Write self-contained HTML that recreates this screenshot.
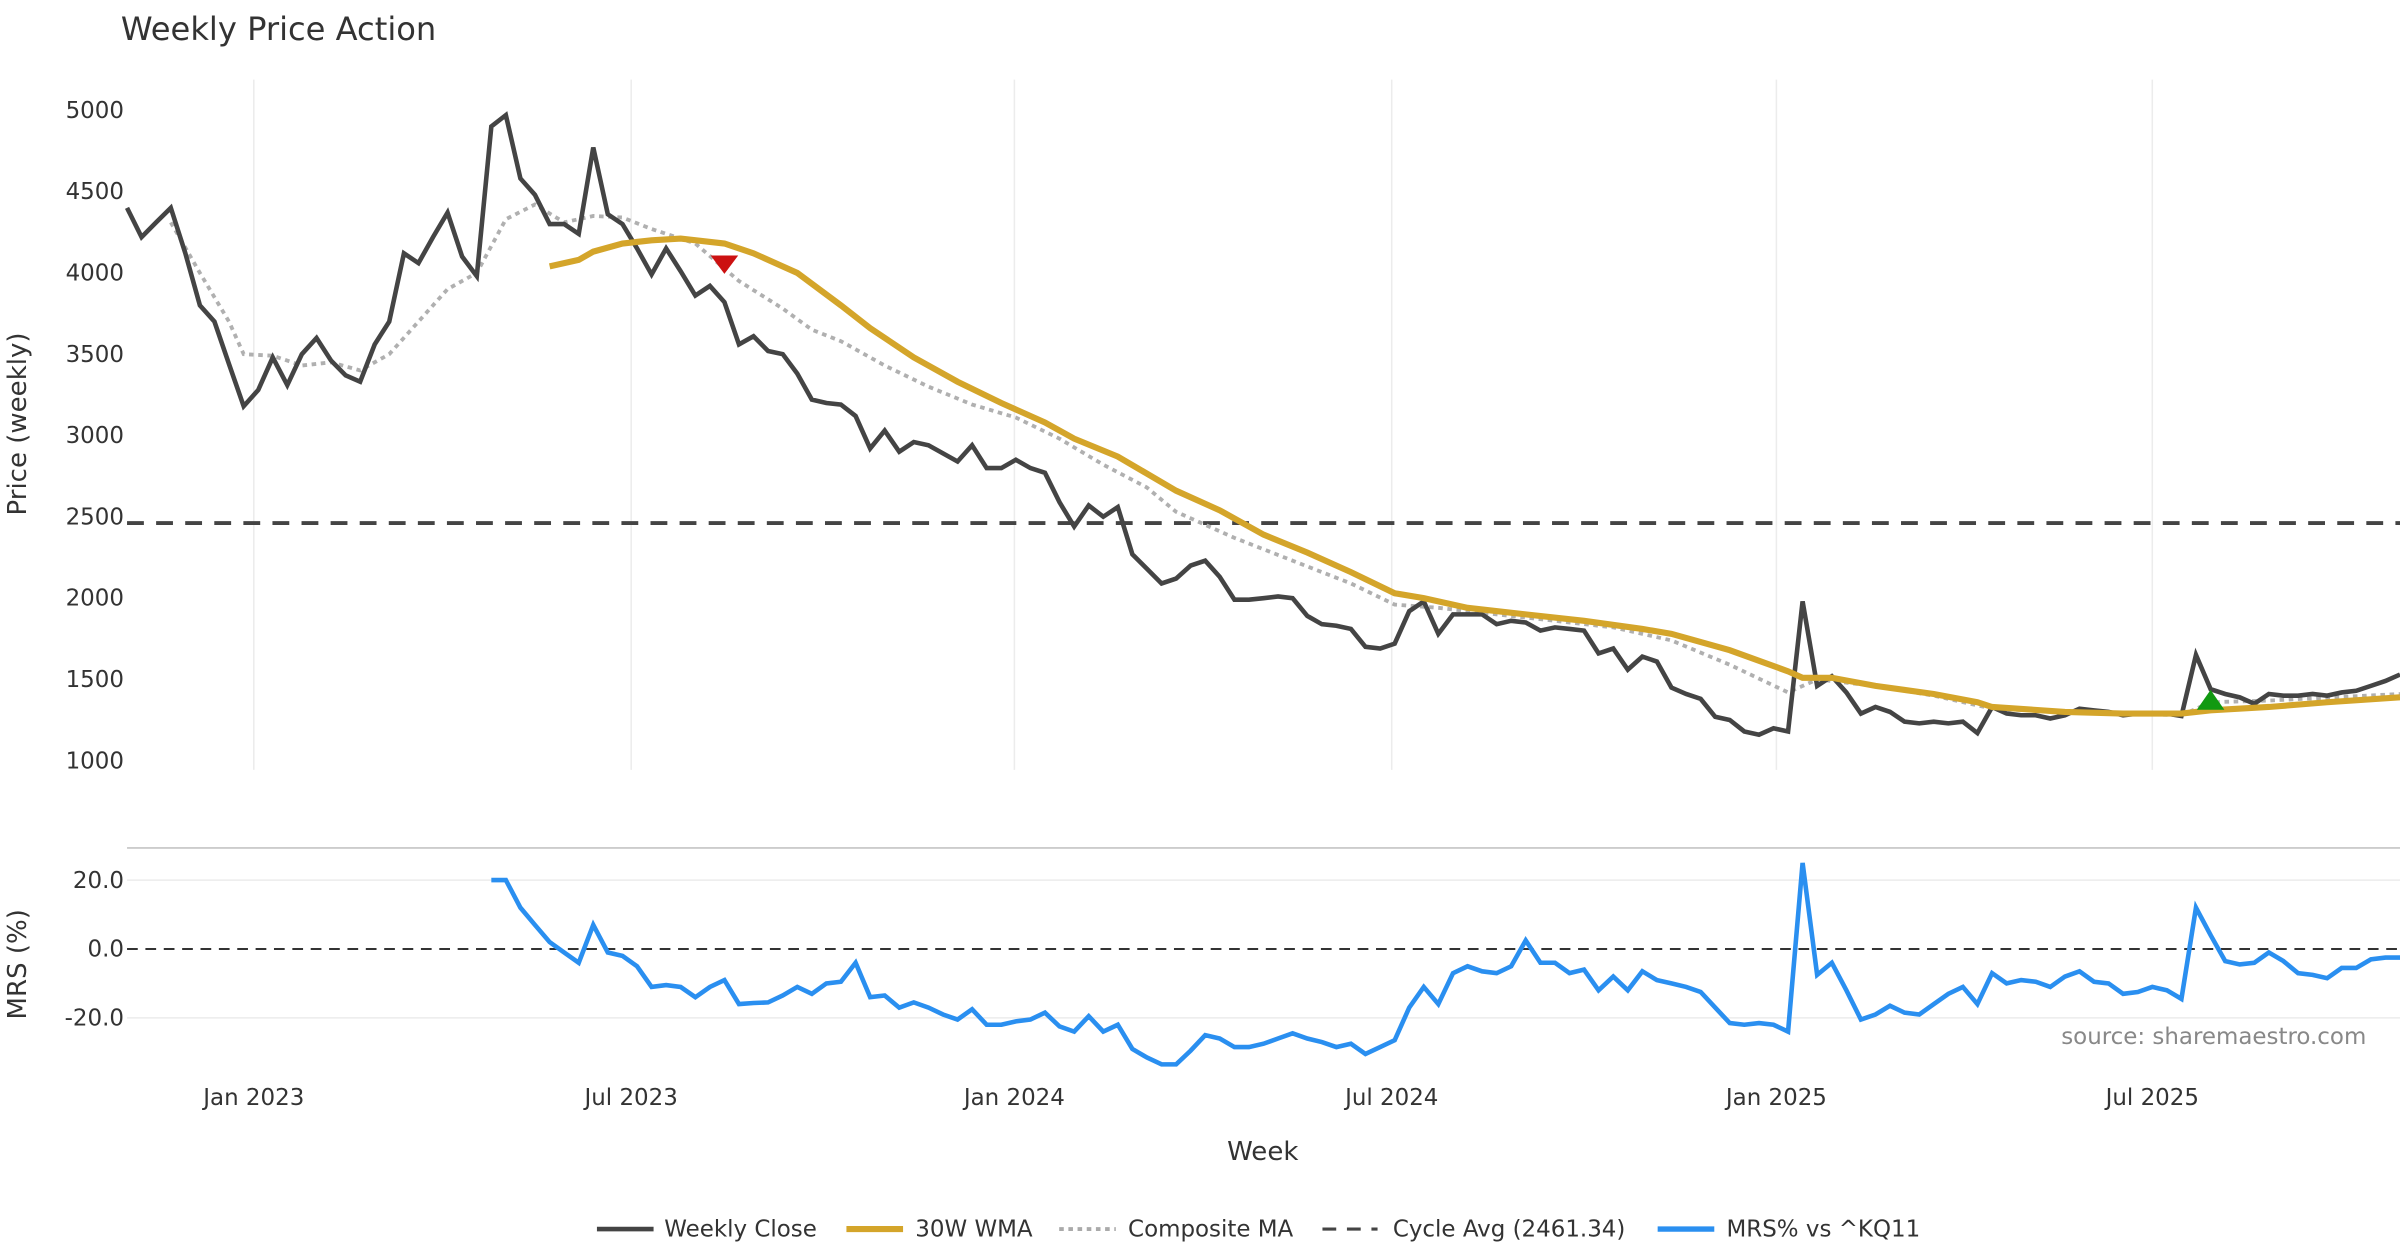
<!DOCTYPE html>
<html><head><meta charset="utf-8"><style>
html,body{margin:0;padding:0;background:#fff;}
svg{display:block;font-family:"DejaVu Sans","Liberation Sans",sans-serif;}
</style></head><body>
<svg id="chart" width="2400" height="1260" viewBox="0 0 1568 823.2" xmlns="http://www.w3.org/2000/svg">
<rect width="1568" height="823.2" fill="#fff"/>
<text x="79" y="26" font-size="21" fill="#333">Weekly Price Action</text>
<g id="grid"></g><g id="series"></g><g id="axes"></g>
<text transform="translate(17,277) rotate(-90)" text-anchor="middle" font-size="17" fill="#333">Price (weekly)</text>
<text transform="translate(17,630) rotate(-90)" text-anchor="middle" font-size="17" fill="#333">MRS (%)</text>
<text x="825" y="758" text-anchor="middle" font-size="17" fill="#333">Week</text>
<text x="1546" y="682" text-anchor="end" font-size="15" fill="#888">source: sharemaestro.com</text>
<g font-size="15" fill="#333">
<g><line x1="390" y1="803" x2="427" y2="803" stroke="#444" stroke-width="3"/><text x="434" y="808">Weekly Close</text></g>
<g><line x1="553" y1="803" x2="590" y2="803" stroke="#d4a52a" stroke-width="4"/><text x="598" y="808">30W WMA</text></g>
<g><line x1="692" y1="803" x2="729" y2="803" stroke="#aaa" stroke-width="2.5" stroke-dasharray="3,3"/><text x="737" y="808">Composite MA</text></g>
<g><line x1="864" y1="803" x2="900" y2="803" stroke="#444" stroke-width="2" stroke-dasharray="9,7"/><text x="910" y="808">Cycle Avg (2461.34)</text></g>
<g><line x1="1083" y1="803" x2="1120" y2="803" stroke="#2a8ff0" stroke-width="3.5"/><text x="1128" y="808">MRS% vs ^KQ11</text></g>
</g>
</svg>
<script>
const closes=[4400,4220,4310,4400,4120,3800,3700,3440,3180,3280,
3480,3310,3500,3600,3460,3370,3330,3560,3700,4120,
4060,4220,4370,4100,3980,4900,4970,4580,4480,4300,
4300,4240,4770,4360,4300,4150,3990,4150,4010,3860,
3920,3820,3560,3610,3520,3500,3380,3220,3200,3190,
3120,2920,3030,2900,2960,2940,2890,2840,2940,2800,
2800,2850,2800,2770,2590,2440,2570,2500,2560,2270,
2180,2090,2120,2200,2230,2130,1990,1990,2000,2010,
2000,1890,1840,1830,1810,1700,1690,1720,1920,1980,
1780,1900,1900,1900,1840,1860,1850,1800,1820,1810,
1800,1660,1690,1560,1640,1610,1450,1410,1380,1270,
1250,1180,1160,1200,1180,1980,1460,1520,1420,1290,
1330,1300,1240,1230,1240,1230,1240,1170,1330,1290,
1280,1280,1260,1280,1320,1310,1300,1280,1290,1290,
1290,1275,1650,1440,1410,1390,1350,1410,1400,1400,
1410,1400,1420,1430,1460,1490,1530];
const wmaWeeks=[29,31,32,34,36,38,41,43,46,49,51,54,57,60,63,65,68,72,75,78,81,84,87,89,92,96,100,104,106,110,114,115,117,120,124,127,128,133,137,141,143,147,151,156];
const wmaValues=[4040,4080,4130,4180,4200,4210,4180,4120,4000,3800,3660,3480,3330,3200,3080,2980,2870,2660,2540,2390,2280,2160,2030,2000,1940,1900,1860,1810,1780,1680,1550,1510,1510,1460,1410,1360,1330,1300,1290,1290,1310,1330,1360,1390];
const compWeeks=[3,5,7,8,10,12,14,16,18,20,22,24,26,28,30,32,34,36,39,42,45,47,49,52,55,58,61,64,67,70,72,76,80,84,87,90,94,98,102,106,110,114,116,120,124,128,133,141,143,147,156];
const compValues=[4310,4000,3700,3500,3490,3430,3450,3400,3500,3700,3900,4000,4330,4420,4310,4350,4340,4270,4180,3950,3780,3650,3580,3430,3300,3190,3110,2980,2820,2680,2530,2370,2230,2090,1960,1940,1900,1860,1820,1740,1590,1420,1500,1460,1400,1320,1300,1280,1360,1370,1410];
const mrsStart=25;
const mrsValues=[20,20,12,7,2,-1,-4,7,-1,-2,-5,-11,-10.5,-11,-14,-11,-9,-16,-15.7,-15.5,
-13.5,-11,-13,-10,-9.5,-4,-14,-13.5,-17,-15.5,-17,-19,-20.5,-17.5,-22,-22,-21,-20.5,-18.5,-22.5,
-24,-19.5,-24,-22,-29,-31.5,-33.5,-33.5,-29.5,-25,-26,-28.5,-28.5,-27.5,-26,-24.5,-26,-27,-28.5,-27.5,
-30.5,-28.5,-26.5,-17,-11,-16,-7,-5,-6.5,-7,-5,2.5,-4,-4,-7,-6,-12,-8,-12,-6.5,
-9,-10,-11,-12.5,-17,-21.5,-22,-21.5,-22,-24,25,-7.5,-4,-12,-20.5,-19,-16.5,-18.5,-19,-16,
-13,-11,-16,-7,-10,-9,-9.5,-11,-8,-6.5,-9.5,-10,-13,-12.5,-11,-12,-14.5,12,4,-3.5,-4.5,-4,-1,-3.5,-7,-7.5,-8.5,-5.5,-5.5,-3,-2.5,-2.5];
const cycleAvg=2461.34;
const priceTicks=[1000,1500,2000,2500,3000,3500,4000,4500,5000];
const mrsTicks=[20,0,-20];
const mrsTickLabels=["20.0","0.0","-20.0"];
const dateLabels=["Jan 2023","Jul 2023","Jan 2024","Jul 2024","Jan 2025","Jul 2025"];
const dateWeeks=[8.7,34.6,60.9,86.8,113.2,139];
const sellSignal={week:41,value:4050};
const buySignal={week:143,value:1370};

const NS="http://www.w3.org/2000/svg";
const X0=83,X1=1568;
const step=(X1-X0)/(closes.length-1);
const xs=w=>X0+w*step;
const yp=v=>72+(5000-v)/4000*425;
const ym=v=>620-v*2.25;
function mk(tag,attrs,parent){const e=document.createElementNS(NS,tag);for(const k in attrs)e.setAttribute(k,attrs[k]);parent.appendChild(e);return e;}
const grid=document.getElementById('grid'),ser=document.getElementById('series'),ax=document.getElementById('axes');

dateWeeks.forEach((w,i)=>{
  const l=mk('line',{x1:xs(w),x2:xs(w),y1:52,y2:503,stroke:'#ececec','stroke-width':1},grid);
  
  
  const t=mk('text',{x:xs(w),y:722,'text-anchor':'middle','font-size':15,fill:'#333'},ax);
  t.textContent=dateLabels[i];
  
  
});
priceTicks.forEach(v=>{
  const t=mk('text',{x:81,y:yp(v)+5,'text-anchor':'end','font-size':15,fill:'#333'},ax);
  t.textContent=v;
  
  
});
const sep=mk('line',{x1:X0,x2:X1,y1:554,y2:554,stroke:'#ccc','stroke-width':1.2},grid);


mrsTicks.forEach((v,i)=>{
  if(v!==0){const g=mk('line',{x1:X0,x2:X1,y1:ym(v),y2:ym(v),stroke:'#ececec','stroke-width':1},grid);
  
  }
  const t=mk('text',{x:81,y:ym(v)+5,'text-anchor':'end','font-size':15,fill:'#333'},ax);
  t.textContent=mrsTickLabels[i];
  
  
});
const zl=mk('line',{x1:X0,x2:X1,y1:ym(0),y2:ym(0),stroke:'#333','stroke-width':1.3,'stroke-dasharray':'7,5'},ser);


const ca=mk('line',{x1:X0,x2:X1,y1:yp(cycleAvg),y2:yp(cycleAvg),stroke:'#444','stroke-width':2.5,'stroke-dasharray':'11,8'},ser);



function pts(ws,vs,yf){return ws.map((w,i)=>xs(w).toFixed(1)+','+yf(vs[i]).toFixed(1)).join(' ');}
const comp=mk('polyline',{points:pts(compWeeks,compValues,yp),fill:'none',stroke:'#b0b0b0','stroke-width':2.5,'stroke-dasharray':'3,3'},ser);


const cl=mk('polyline',{points:pts(closes.map((_,i)=>i),closes,yp),fill:'none',stroke:'#444','stroke-width':3,'stroke-linejoin':'miter'},ser);


const wma=mk('polyline',{points:pts(wmaWeeks,wmaValues,yp),fill:'none',stroke:'#d4a52a','stroke-width':4},ser);


const mrs=mk('polyline',{points:pts(mrsValues.map((_,i)=>mrsStart+i),mrsValues,ym),fill:'none',stroke:'#2a8ff0','stroke-width':3},ser);



const sx=xs(sellSignal.week),sy=yp(sellSignal.value);
const sm=mk('polygon',{points:`${sx-9},${sy-6} ${sx+9},${sy-6} ${sx},${sy+6}`,fill:'#cc1111'},ser);


const bx=xs(buySignal.week),by=yp(buySignal.value);
const bm=mk('polygon',{points:`${bx-9},${by+6} ${bx+9},${by+6} ${bx},${by-7}`,fill:'#119911'},ser);


</script>
</body></html>
